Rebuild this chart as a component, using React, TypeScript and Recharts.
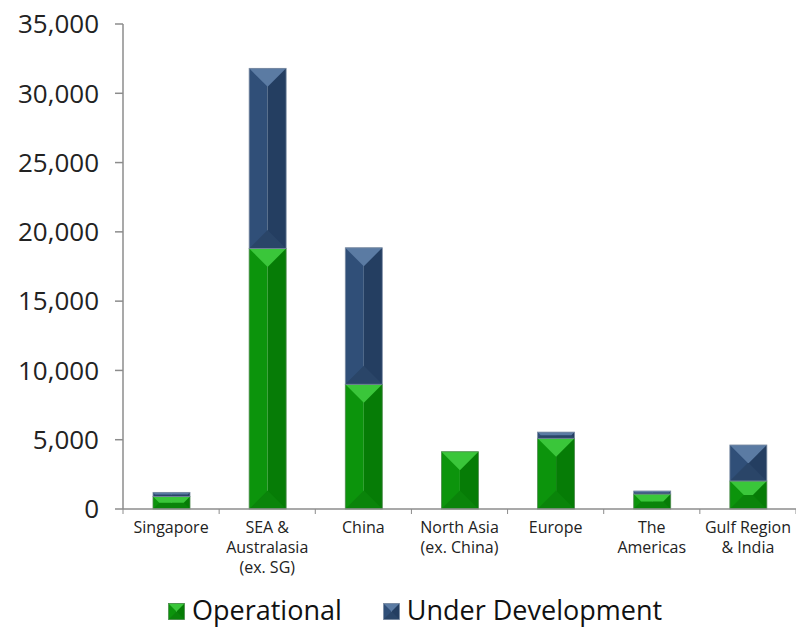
import { BarChart, Bar, XAxis, YAxis } from 'recharts';

const regions = [
  ['Singapore'],
  ['SEA &', 'Australasia', '(ex. SG)'],
  ['China'],
  ['North Asia', '(ex. China)'],
  ['Europe'],
  ['The', 'Americas'],
  ['Gulf Region', '& India'],
];
const operational = [900, 18800, 9000, 4130, 5100, 1080, 2020];
const underDevelopment = [300, 13000, 9850, 0, 450, 220, 2600];
const yTicks = [0, 5000, 10000, 15000, 20000, 25000, 30000, 35000];

const data = regions.map((lines, i) => ({
  name: lines.join(' '),
  lines,
  operational: operational[i],
  underDevelopment: underDevelopment[i],
}));

const FONT = "'Open Sans', 'DejaVu Sans', sans-serif";

const palettes = {
  green: { left: '#0c940c', right: '#067c06', top: '#3ac63a', bottom: '#0a840a', edge: '#4f8a4f' },
  navy: { left: '#304f78', right: '#243e61', top: '#5b7ba3', bottom: '#2a4568', edge: '#7d8da3' },
};

function BevelBar(props: any, pal: any) {
  const { x, y, width, height } = props;
  if (!height || height <= 0.5) return null;
  const w = width;
  const h = height;
  const d = Math.min(w / 2, h / 2);
  return (
    <g>
      <rect x={x} y={y} width={w / 2} height={h} fill={pal.left} />
      <rect x={x + w / 2} y={y} width={w / 2} height={h} fill={pal.right} />
      <polygon
        points={`${x},${y + h} ${x + w},${y + h} ${x + w - d},${y + h - d} ${x + d},${y + h - d}`}
        fill={pal.bottom}
      />
      <polygon
        points={`${x},${y} ${x + w},${y} ${x + w - d},${y + d} ${x + d},${y + d}`}
        fill={pal.top}
      />
      <rect x={x} y={y} width={w} height={h} fill="none" stroke={pal.edge} strokeWidth={0.8} />
    </g>
  );
}

function CategoryTick(props: any) {
  const { x, y, payload, index } = props;
  const band = (796 - 123) / data.length;
  const lines: string[] = data[index]?.lines ?? [payload.value];
  return (
    <g>
      <line x1={x - band / 2} y1={y} x2={x - band / 2} y2={y + 5} stroke="#8c8c8c" />
      {index === data.length - 1 && (
        <line x1={x + band / 2} y1={y} x2={x + band / 2} y2={y + 5} stroke="#8c8c8c" />
      )}
      <text x={x} y={y + 24} textAnchor="middle" fontSize={16} fill="#222" fontFamily={FONT}>
        {lines.map((l, i) => (
          <tspan key={i} x={x} dy={i === 0 ? 0 : 20}>
            {l}
          </tspan>
        ))}
      </text>
    </g>
  );
}

function LegendIcon({ pal }: { pal: any }) {
  return (
    <svg width={17} height={17} style={{ marginRight: 7, marginTop: 3 }}>
      {BevelBar({ x: 0.5, y: 0.5, width: 16, height: 16 }, pal)}
    </svg>
  );
}

function ChartLegend() {
  return (
    <div
      style={{
        position: 'absolute',
        left: 168,
        top: 594,
        display: 'flex',
        alignItems: 'center',
        fontFamily: FONT,
        fontSize: 27,
        lineHeight: '32px',
        color: '#111',
        whiteSpace: 'nowrap',
      }}
    >
      <span style={{ display: 'flex', alignItems: 'center', marginRight: 41 }}>
        <LegendIcon pal={palettes.green} />
        Operational
      </span>
      <span style={{ display: 'flex', alignItems: 'center' }}>
        <LegendIcon pal={palettes.navy} />
        Under Development
      </span>
    </div>
  );
}

export default function App() {
  return (
    <div style={{ position: 'absolute', left: 0, top: 0, width: 796, height: 631, background: '#fff' }}>
      <BarChart
        width={796}
        height={631}
        data={data}
        margin={{ top: 24, right: 0, left: 0, bottom: 62 }}
        barSize={37}
      >
        <XAxis
          dataKey="name"
          interval={0}
          tick={<CategoryTick />}
          tickLine={false}
          tickSize={0}
          tickMargin={0}
          axisLine={{ stroke: '#8c8c8c', strokeWidth: 1.5 }}
          height={60}
        />
        <YAxis
          domain={[0, 35000]}
          ticks={yTicks}
          width={123}
          tickFormatter={(v: number) => v.toLocaleString('en-US')}
          tick={{ fontSize: 26, fill: '#222', fontFamily: FONT }}
          tickSize={8}
          tickMargin={16}
          tickLine={{ stroke: '#8c8c8c', strokeWidth: 1.5 }}
          axisLine={{ stroke: '#8c8c8c', strokeWidth: 1.5 }}
        />
        <Bar
          dataKey="operational"
          stackId="a"
          isAnimationActive={false}
          shape={(p: any) => BevelBar(p, palettes.green)}
        />
        <Bar
          dataKey="underDevelopment"
          stackId="a"
          isAnimationActive={false}
          shape={(p: any) => BevelBar(p, palettes.navy)}
        />
      </BarChart>
      <ChartLegend />
    </div>
  );
}
